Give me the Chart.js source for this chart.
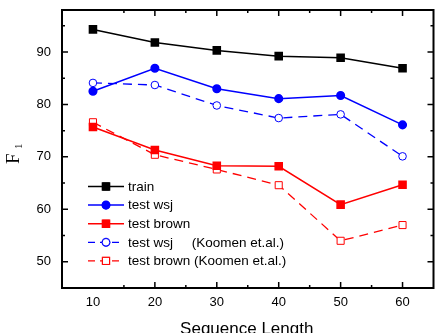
<!DOCTYPE html>
<html>
<head>
<meta charset="utf-8">
<script src="https://cdn.jsdelivr.net/npm/chart.js@4.4.1/dist/chart.umd.min.js"></script>
<style>
  html, body { margin: 0; padding: 0; background: #fff; overflow: hidden; }
  #wrap { width: 440px; height: 333px; }
</style>
</head>
<body>
<div id="wrap"><canvas id="chart"></canvas></div>
<script>
// Sequence length vs F1
const seqLength = [10, 20, 30, 40, 50, 60];
const trainF1 = [94.3, 91.8, 90.3, 89.2, 88.9, 86.9];
const wsjF1 = [82.5, 86.9, 83.0, 81.1, 81.7, 76.1];
const brownF1 = [75.7, 71.3, 68.3, 68.2, 60.9, 64.7];
const koomenWsjF1 = [84.1, 83.7, 79.8, 77.4, 78.1, 70.1];
const koomenBrownF1 = [76.6, 70.4, 67.6, 64.6, 54.0, 57.0];

const xTicks = [10, 20, 30, 40, 50, 60];
const yTicks = [50, 60, 70, 80, 90];

const toPoints = ys => seqLength.map((x, i) => ({ x, y: ys[i] }));

const BLUE = '#0000ff';
const RED = '#ff0000';

const datasets = [
  { label: 'train', data: toPoints(trainF1), borderColor: '#000', backgroundColor: '#000',
    pointStyle: 'rect', pointRadius: 5, borderWidth: 1.5 },
  { label: 'test wsj', data: toPoints(wsjF1), borderColor: BLUE, backgroundColor: BLUE,
    pointStyle: 'circle', pointRadius: 3.8, borderWidth: 1.5 },
  { label: 'test brown', data: toPoints(brownF1), borderColor: RED, backgroundColor: RED,
    pointStyle: 'rect', pointRadius: 5, borderWidth: 1.5 },
  { label: 'test wsj     (Koomen et.al.)', data: toPoints(koomenWsjF1), borderColor: BLUE,
    backgroundColor: '#fff', pointStyle: 'circle', pointRadius: 3.8, borderWidth: 1.3,
    borderDash: [9, 6], pointBorderWidth: 1 },
  { label: 'test brown (Koomen et.al.)', data: toPoints(koomenBrownF1), borderColor: RED,
    backgroundColor: '#fff', pointStyle: 'rect', pointRadius: 5, borderWidth: 1.3,
    borderDash: [9, 6], pointBorderWidth: 1 }
];

// frame, inward ticks, axis titles and legend
const decorations = {
  id: 'decorations',
  afterDatasetsDraw(chart) {
    const { ctx, chartArea: a, scales: { x, y } } = chart;
    ctx.save();
    ctx.strokeStyle = '#000';
    ctx.lineWidth = 2;
    ctx.strokeRect(a.left, a.top, a.right - a.left, a.bottom - a.top);

    ctx.lineWidth = 1.5;
    ctx.beginPath();
    for (let v = 15; v <= 60; v += 5) {
      const px = x.getPixelForValue(v);
      const len = v % 10 === 0 ? 6 : 3;
      ctx.moveTo(px, a.bottom); ctx.lineTo(px, a.bottom - len);
      ctx.moveTo(px, a.top); ctx.lineTo(px, a.top + len);
    }
    for (let v = 50; v <= 95; v += 5) {
      const py = y.getPixelForValue(v);
      const len = v % 10 === 0 ? 6 : 3;
      ctx.moveTo(a.left, py); ctx.lineTo(a.left + len, py);
      ctx.moveTo(a.right, py); ctx.lineTo(a.right - len, py);
    }
    ctx.stroke();

    // x title
    ctx.fillStyle = '#000';
    ctx.font = '17px Arial, "Liberation Sans", sans-serif';
    ctx.textAlign = 'center';
    ctx.textBaseline = 'alphabetic';
    ctx.fillText('Sequence Length', (a.left + a.right) / 2 - 1, 334);

    // y title F1
    ctx.save();
    ctx.translate(19, 164);
    ctx.rotate(-Math.PI / 2);
    ctx.textAlign = 'left';
    ctx.font = '19px "Liberation Serif", "Times New Roman", serif';
    ctx.fillText('F', 0, 0);
    ctx.font = '11px "Liberation Serif", "Times New Roman", serif';
    ctx.fillText('1', 15, 3);
    ctx.restore();

    // legend
    ctx.font = '13.5px Arial, "Liberation Sans", sans-serif';
    ctx.textAlign = 'left';
    ctx.textBaseline = 'middle';
    chart.data.datasets.forEach((ds, i) => {
      const ly = 186.5 + i * 18.6;
      ctx.save();
      ctx.strokeStyle = ds.borderColor;
      ctx.lineWidth = ds.borderWidth;
      if (ds.borderDash) ctx.setLineDash([7, 5]);
      ctx.beginPath();
      ctx.moveTo(88, ly); ctx.lineTo(124, ly);
      ctx.stroke();
      ctx.setLineDash([]);
      Chart.helpers.drawPoint(ctx, {
        pointStyle: ds.pointStyle, radius: ds.pointRadius, rotation: 0,
        borderWidth: ds.pointBorderWidth || 1
      }, 106, ly);
      ctx.fillStyle = ds.backgroundColor;
      ctx.strokeStyle = ds.borderColor;
      ctx.lineWidth = ds.pointBorderWidth || 1;
      ctx.fill();
      ctx.stroke();
      ctx.restore();
      ctx.fillStyle = '#000';
      ctx.fillText(ds.label, 128, ly + 0.5);
    });
    ctx.restore();
  }
};

new Chart(document.getElementById('chart'), {
  type: 'line',
  data: { datasets },
  options: {
    responsive: true,
    maintainAspectRatio: false,
    animation: false,
    layout: { padding: { top: 10, right: 1, left: 0, bottom: 0 } },
    plugins: { legend: { display: false }, tooltip: { enabled: false } },
    scales: {
      x: {
        type: 'linear',
        min: 5,
        max: 65,
        afterBuildTicks: s => { s.ticks = xTicks.map(value => ({ value })); },
        afterFit: s => { s.height = 45; s.paddingLeft = 0; s.paddingRight = 0; },
        grid: { display: false, drawTicks: false },
        border: { display: false },
        ticks: { color: '#000', padding: 7, font: { size: 13, family: 'Arial, "Liberation Sans", sans-serif' } }
      },
      y: {
        min: 45,
        max: 98,
        afterBuildTicks: s => { s.ticks = yTicks.map(value => ({ value })); },
        afterFit: s => { s.width = 62; s.paddingTop = 0; s.paddingBottom = 0; },
        grid: { display: false, drawTicks: false },
        border: { display: false },
        ticks: { color: '#000', padding: 11, font: { size: 13, family: 'Arial, "Liberation Sans", sans-serif' } }
      }
    }
  },
  plugins: [decorations]
});
</script>
</body>
</html>
